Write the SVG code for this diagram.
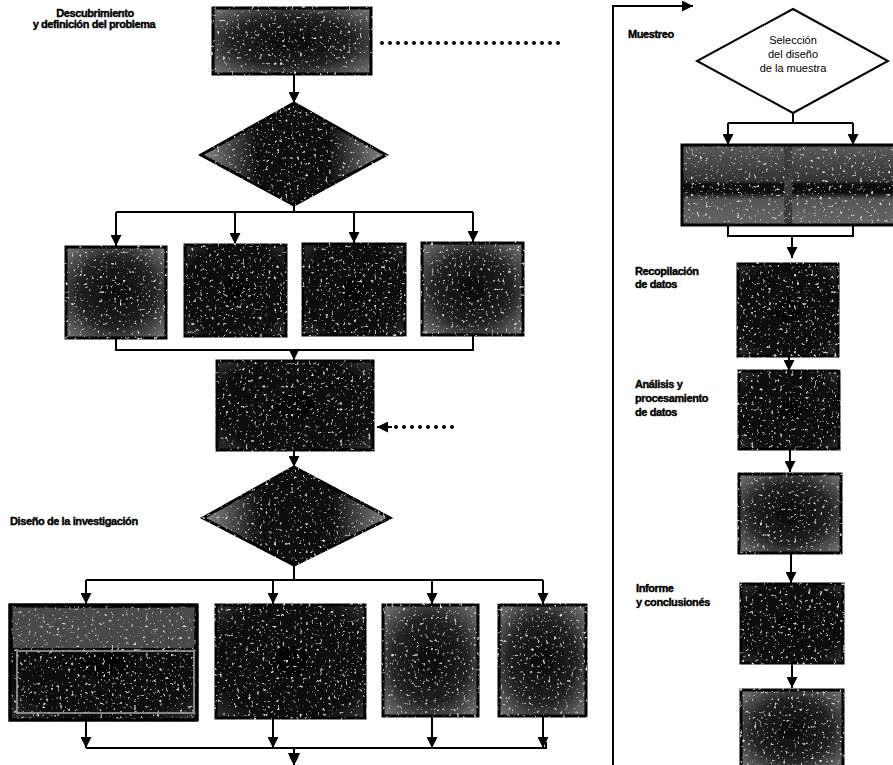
<svg xmlns="http://www.w3.org/2000/svg" width="893" height="765" viewBox="0 0 893 765">
<style>
.lbl{font-family:"Liberation Sans",Arial,sans-serif;font-weight:bold;font-size:11px;fill:#000;letter-spacing:-0.4px;stroke:#000;stroke-width:0.4px}
.dlbl{font-family:"Liberation Sans",Arial,sans-serif;font-size:11px;fill:#000;text-anchor:middle}
.box{stroke:#000;stroke-width:3;filter:url(#grain)}
.edge{fill:none;stroke:#000;stroke-width:3}
.con{fill:none;stroke:#000;stroke-width:2}
.arr{fill:none;stroke:#000;stroke-width:2;marker-end:url(#ah)}
.dots{fill:none;stroke:#000;stroke-width:4;stroke-linecap:round;stroke-dasharray:0 8}
</style>
<defs>
<marker id="ah" viewBox="0 0 10 10" refX="10" refY="5" markerWidth="12" markerHeight="11" markerUnits="userSpaceOnUse" orient="auto">
<path d="M0,0 L10,5 L0,10 z" fill="#000"/>
</marker>
<radialGradient id="dk" cx="0.5" cy="0.5" r="0.7">
<stop offset="0" stop-color="#030303"/><stop offset="0.75" stop-color="#111"/><stop offset="1" stop-color="#333"/>
</radialGradient>
<radialGradient id="lt" cx="0.5" cy="0.5" r="0.7">
<stop offset="0" stop-color="#080808"/><stop offset="0.55" stop-color="#222"/><stop offset="1" stop-color="#7a7a7a"/>
</radialGradient>
<linearGradient id="dia" x1="0" y1="0" x2="1" y2="0">
<stop offset="0" stop-color="#8a8a8a"/><stop offset="0.3" stop-color="#111"/><stop offset="0.7" stop-color="#111"/><stop offset="1" stop-color="#8a8a8a"/>
</linearGradient>
<linearGradient id="band" x1="0" y1="0" x2="0" y2="1">
<stop offset="0" stop-color="#5a5a5a"/><stop offset="0.45" stop-color="#333"/><stop offset="0.5" stop-color="#080808"/><stop offset="0.6" stop-color="#111"/><stop offset="0.68" stop-color="#555"/><stop offset="1" stop-color="#666"/>
</linearGradient>
<filter id="grain" x="-0.05" y="-0.05" width="1.1" height="1.1">
<feTurbulence type="fractalNoise" baseFrequency="0.35" numOctaves="2" seed="4" result="n"/>
<feColorMatrix in="n" type="matrix" values="0 0 0 0 0.75  0 0 0 0 0.75  0 0 0 0 0.75  6 0 0 0 -3.9" result="sp"/>
<feComposite in="sp" in2="SourceGraphic" operator="in" result="sp2"/>
<feMerge><feMergeNode in="SourceGraphic"/><feMergeNode in="sp2"/></feMerge>
</filter>
</defs>
<rect width="893" height="765" fill="#fff"/>

<g id="connectors">
<path class="arr" d="M294,74 V103"/>
<path class="dots" d="M382,43 H566"/>
<path class="con" d="M294,205 V212 M116,212 H473"/>
<path class="arr" d="M116,212 V246"/>
<path class="arr" d="M235,212 V244"/>
<path class="arr" d="M354,212 V243"/>
<path class="arr" d="M473,212 V242"/>
<path class="con" d="M116,338 V350 H473 V335"/>
<path class="arr" d="M294,350 V360"/>
<path class="dots" d="M452,427 H394"/>
<path class="arr" d="M392,427 H377"/>
<path class="arr" d="M294,450 V467"/>
<path class="con" d="M294,565 V580 M86,580 H543"/>
<path class="arr" d="M86,580 V604"/>
<path class="arr" d="M273,580 V604"/>
<path class="arr" d="M432,580 V604"/>
<path class="arr" d="M543,580 V604"/>
<path class="arr" d="M86,720 V748"/>
<path class="arr" d="M273,718 V748"/>
<path class="arr" d="M432,716 V748"/>
<path class="arr" d="M543,716 V748"/>
<path class="con" d="M86,748 H546 V742"/>
<path class="con" d="M294,748 V765"/>
<path d="M288,753 L300,753 L297,760 L294,765 L291,760 z" fill="#000"/>
<path class="arr" d="M613,765 V6 H693"/>
<path class="con" d="M793,113 V123 M728,123 H853"/>
<path class="arr" d="M728,123 V145"/>
<path class="arr" d="M853,123 V145"/>
<path class="con" d="M728,225 V236 H853 V225"/>
<path class="arr" d="M792,236 V258"/>
<path class="arr" d="M789,356 V371"/>
<path class="arr" d="M790,449 V472"/>
<path class="arr" d="M791,553 V583"/>
<path class="arr" d="M792,663 V688"/>
</g>

<g id="n-descubrimiento">
<rect class="box" x="213" y="8" width="158" height="66" fill="url(#lt)"/>
<text class="lbl" x="95" y="17" text-anchor="middle">Descubrimiento</text>
<text class="lbl" x="94" y="28" text-anchor="middle">y definición del problema</text>
</g>
<g id="n-diamond1">
<polygon class="box" points="294,103 386,155 294,205 201,155" fill="url(#dia)"/>
</g>
<g id="n-r1b1"><rect class="box" x="66" y="247" width="100" height="91" fill="url(#lt)"/></g>
<g id="n-r1b2"><rect class="box" x="185" y="245" width="101" height="91" fill="url(#dk)"/></g>
<g id="n-r1b3"><rect class="box" x="303" y="244" width="102" height="91" fill="url(#dk)"/></g>
<g id="n-r1b4"><rect class="box" x="422" y="243" width="101" height="92" fill="url(#lt)"/></g>
<g id="n-mid"><rect class="box" x="217" y="361" width="156" height="89" fill="url(#dk)"/></g>
<g id="n-diseno">
<polygon class="box" points="294,467 390,518 294,565 203,518" fill="url(#dia)"/>
<text class="lbl" x="10" y="525">Diseño de la investigación</text>
</g>
<g id="n-r2b1">
<rect class="box" x="10" y="605" width="187" height="115" fill="url(#dk)"/>
<rect x="13" y="608" width="181" height="40" fill="#4a4a4a" filter="url(#grain)"/>
<rect x="17" y="651" width="177" height="62" fill="none" stroke="#aaa" stroke-width="1.5"/>
<rect class="edge" x="10" y="605" width="187" height="115"/>
</g>
<g id="n-r2b2"><rect class="box" x="216" y="605" width="149" height="113" fill="url(#dk)"/></g>
<g id="n-r2b3"><rect class="box" x="383" y="605" width="95" height="111" fill="url(#lt)"/></g>
<g id="n-r2b4"><rect class="box" x="499" y="605" width="87" height="111" fill="url(#lt)"/></g>

<g id="n-muestreo">
<text class="lbl" x="628" y="38">Muestreo</text>
<polygon points="793,9 888,61 793,113 697,61" fill="#fff" stroke="#000" stroke-width="2"/>
<text class="dlbl" x="793" y="44">Selección</text>
<text class="dlbl" x="793" y="58">del diseño</text>
<text class="dlbl" x="793" y="72">de la muestra</text>
</g>
<g id="n-muestra">
<rect x="682" y="145" width="102" height="80" fill="url(#band)" filter="url(#grain)"/>
<rect x="784" y="145" width="8" height="80" fill="#3a3a3a" filter="url(#grain)"/>
<rect x="792" y="145" width="103" height="80" fill="url(#band)" filter="url(#grain)"/>
<rect class="edge" x="682" y="145" width="213" height="80"/>
</g>
<g id="n-recopilacion">
<rect class="box" x="738" y="264" width="100" height="92" fill="url(#dk)"/>
<text class="lbl" x="635" y="275">Recopilación</text>
<text class="lbl" x="635" y="288">de datos</text>
</g>
<g id="n-analisis">
<rect class="box" x="739" y="371" width="100" height="78" fill="url(#dk)"/>
<text class="lbl" x="635" y="388">Análisis y</text>
<text class="lbl" x="635" y="402">procesamiento</text>
<text class="lbl" x="635" y="416">de datos</text>
</g>
<g id="n-r3"><rect class="box" x="739" y="474" width="102" height="79" fill="url(#lt)"/></g>
<g id="n-informe">
<rect class="box" x="741" y="584" width="102" height="79" fill="url(#dk)"/>
<text class="lbl" x="636" y="592">Informe</text>
<text class="lbl" x="636" y="606">y conclusionés</text>
</g>
<g id="n-r5"><rect class="box" x="741" y="690" width="102" height="80" fill="url(#lt)"/></g>
</svg>
